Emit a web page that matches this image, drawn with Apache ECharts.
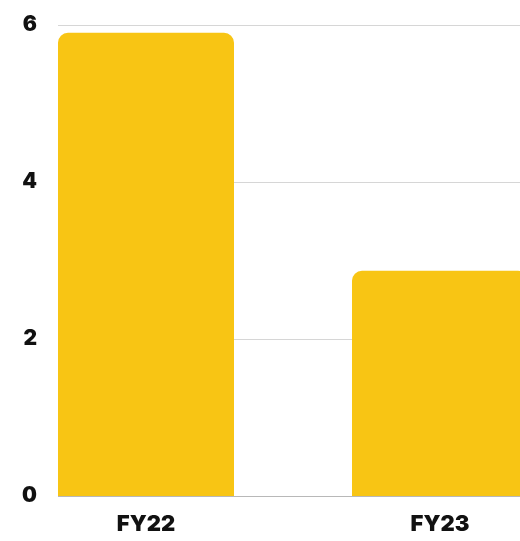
<!DOCTYPE html>
<html>
<head>
<meta charset="utf-8">
<script src="https://cdn.jsdelivr.net/npm/echarts@6/dist/echarts.min.js"></script>
<style>
  html, body { margin: 0; padding: 0; background: #fff; }
  #chart { width: 520px; height: 541px; }
</style>
</head>
<body>
<div id="chart"></div>
<script>
var categories = ['FY22', 'FY23'];
var values = [5.9, 2.87];
var yTicks = [0, 2, 4, 6];

var myChart = echarts.init(document.getElementById('chart'));

// bars sit on a value axis so the second one can run off the right edge
var barData = values.map(function (v, i) { return [i, v]; });

var option = {
    animation: false,
    grid: { left: 58, right: 0, top: 25, bottom: 45 },
    xAxis: {
        type: 'value',
        min: -0.2993,
        max: 1.2721,
        axisLine: { show: false },
        axisTick: { show: false },
        splitLine: { show: false },
        axisLabel: {
            customValues: [0, 1],
            formatter: function (v) { return categories[Math.round(v)]; },
            color: '#111',
            fontSize: 22,
            fontWeight: 900,
            fontFamily: 'Inter',
            margin: 17,
            showMinLabel: true,
            showMaxLabel: true
        }
    },
    yAxis: {
        type: 'value',
        min: yTicks[0],
        max: yTicks[yTicks.length - 1],
        interval: 2,
        axisLine: { show: false },
        axisTick: { show: false },
        axisLabel: {
            color: '#111',
            fontSize: 21,
            fontWeight: 900,
            fontFamily: 'Inter',
            margin: 21
        },
        splitLine: {
            show: true,
            lineStyle: { color: ['#b8b8b8', '#d6d6d6', '#d6d6d6', '#d6d6d6'], width: 1 }
        }
    },
    series: [{
        type: 'bar',
        data: barData,
        barWidth: 176,
        itemStyle: {
            color: '#F8C514',
            borderRadius: [10, 10, 0, 0]
        }
    }]
};

myChart.setOption(option);
</script>
</body>
</html>
